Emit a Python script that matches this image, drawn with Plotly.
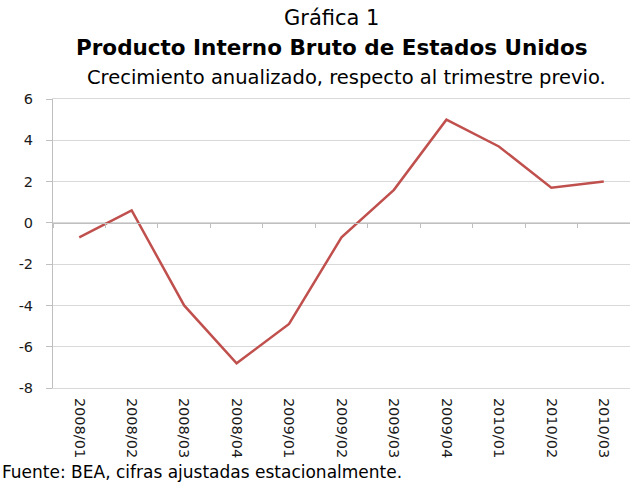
import plotly.graph_objects as go

quarters = ["2008/01", "2008/02", "2008/03", "2008/04", "2009/01", "2009/02",
            "2009/03", "2009/04", "2010/01", "2010/02", "2010/03"]
gdp_growth = [-0.7, 0.6, -4.0, -6.8, -4.9, -0.7, 1.6, 5.0, 3.7, 1.7, 2.0]
y_ticks = [6, 4, 2, 0, -2, -4, -6, -8]
y_tick_labels = ["6", "4", "2", "0", "-2", "-4", "-6", "-8"]

title_top = "Gráfica 1"
title_main = "<b>Producto Interno Bruto de Estados Unidos</b>"
subtitle = "Crecimiento anualizado, respecto al trimestre previo."
source = "Fuente: BEA, cifras ajustadas estacionalmente."

FONT = "DejaVu Sans"
GRID = "#d9d9d9"
AXIS = "#bfbfbf"

fig = go.Figure()
fig.add_trace(go.Scatter(
    x=quarters, y=gdp_growth, mode="lines",
    line=dict(color="#c0504d", width=2.5),
    showlegend=False,
))
# invisible trace to host the zero-crossing category axis
fig.add_trace(go.Scatter(
    x=quarters, y=gdp_growth, mode="lines", xaxis="x2",
    line=dict(color="rgba(0,0,0,0)", width=0), hoverinfo="skip",
    showlegend=False,
))

ymin, ymax = min(y_ticks), max(y_ticks)
zero_pos = (0 - ymin) / (ymax - ymin)

fig.update_layout(
    width=630, height=482,
    margin=dict(l=53, r=0, t=99, b=94),
    paper_bgcolor="white", plot_bgcolor="white",
    font=dict(family=FONT, color="#000000"),
    xaxis=dict(
        type="category", categoryorder="array", categoryarray=quarters,
        range=[-0.5, len(quarters) - 0.5],
        tickangle=90, tickfont=dict(size=14.5, color="#1a1a1a"),
        showgrid=False, ticks="", ticklabelstandoff=6,
        showline=True, linecolor=GRID, linewidth=1, mirror=True,
        zeroline=False,
    ),
    xaxis2=dict(
        type="category", categoryorder="array", categoryarray=quarters,
        range=[-0.5, len(quarters) - 0.5],
        overlaying="x", anchor="free", position=zero_pos, side="bottom",
        showticklabels=False, showgrid=False,
        tickson="boundaries", ticks="outside", ticklen=4, tickcolor=AXIS,
        showline=True, linecolor=AXIS, linewidth=1,
        zeroline=False,
    ),
    yaxis=dict(
        range=[ymin, ymax], tickvals=y_ticks, ticktext=y_tick_labels,
        tickfont=dict(size=14.5, color="#1a1a1a"),
        showgrid=True, gridcolor=GRID, gridwidth=1,
        showline=True, linecolor=AXIS, linewidth=1,
        ticks="outside", ticklen=6, tickcolor=AXIS,
        ticklabelstandoff=10, zeroline=False,
    ),
    annotations=[
        dict(text=title_top, xref="paper", yref="paper", x=0.483, y=1.28,
             xanchor="center", yanchor="middle", showarrow=False,
             font=dict(size=21, family=FONT)),
        dict(text=title_main, xref="paper", yref="paper", x=0.484, y=1.177,
             xanchor="center", yanchor="middle", showarrow=False,
             font=dict(size=21.5, family=FONT)),
        dict(text=subtitle, xref="paper", yref="paper", x=0.5095, y=1.076,
             xanchor="center", yanchor="middle", showarrow=False,
             font=dict(size=19.5, family=FONT)),
        dict(text=source, xref="paper", yref="paper", x=-0.092, y=-0.291,
             xanchor="left", yanchor="middle", showarrow=False,
             font=dict(size=17, family=FONT)),
    ],
)

fig.write_html(
    "out.html",
    config={"displayModeBar": False},
    post_script="document.body.style.margin='0';document.body.style.padding='0';",
)
